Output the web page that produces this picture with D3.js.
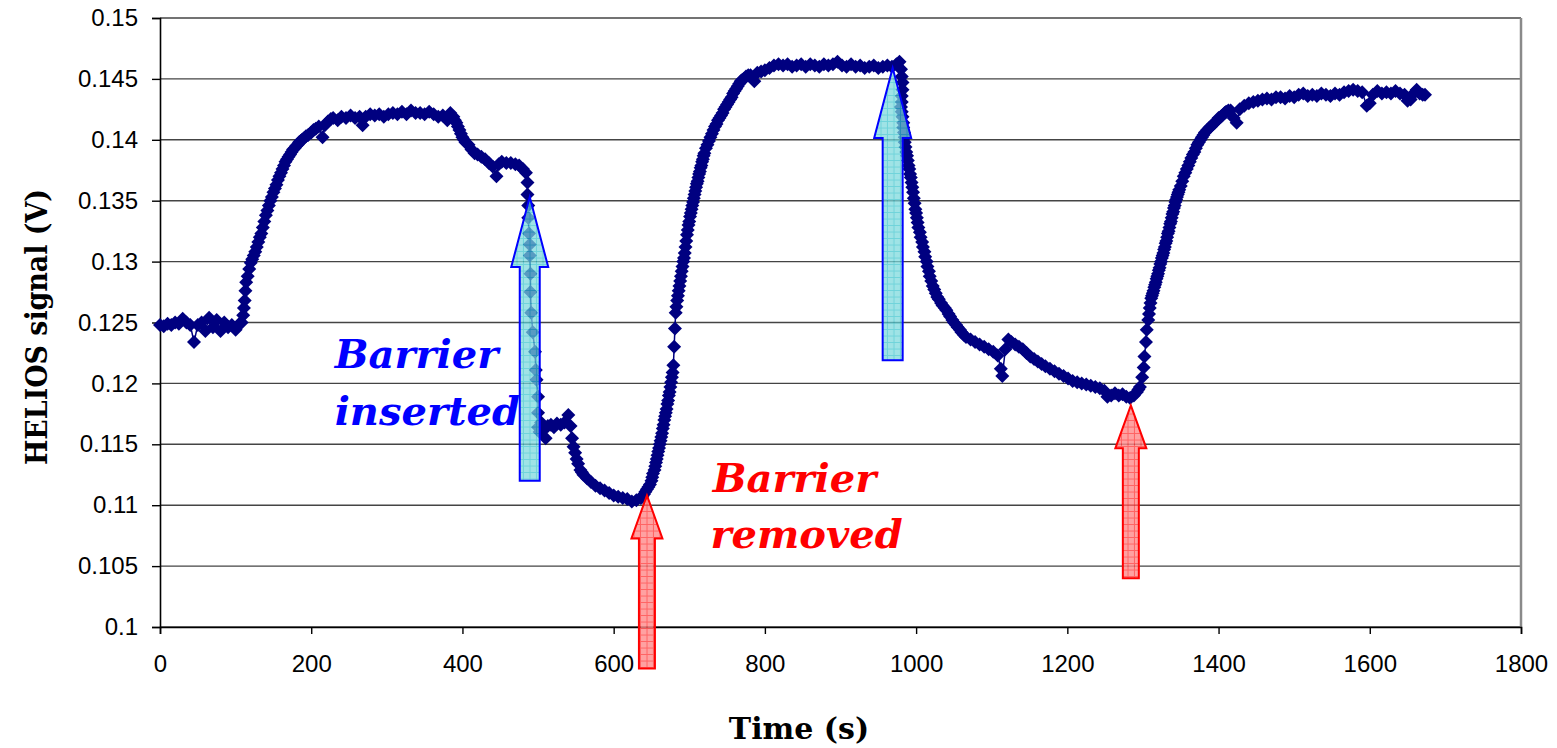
<!DOCTYPE html>
<html>
<head>
<meta charset="utf-8">
<script src="https://cdn.jsdelivr.net/npm/d3@7"></script>
<style>
  body { margin: 0; background: #fff; }
  svg { display: block; }
</style>
</head>
<body>
<div id="chart"></div>
<script>
// HELIOS signal (V) against time (s)
const helios = [
  [0,.1248],[5,.1247],[10,.1249],[15,.1248],[20,.1250],[25,.1249],[30,.1253],[35,.1250],[40,.1248],[45,.1234],
  [50,.1248],[55,.1250],[60,.1243],[65,.1254],[70,.1246],[75,.1252],[80,.1243],[85,.1250],[90,.1246],[95,.1248],
  [100,.1244],[105,.1249],[108,.1250],[110,.1256],[111,.1262],[112,.1268],[113,.1276],[114,.1283],[116,.1288],
  [118,.1294],[120,.1299],[122,.1302],[124,.1305],[126,.1308],[128,.1312],[130,.1316],[132,.1320],[134,.1323],
  [136,.1328],[138,.1333],[140,.1338],[142,.1342],[144,.1346],[146,.1350],[148,.1353],[150,.1357],[152,.1360],
  [154,.1363],[156,.1367],[158,.1370],[160,.1373],[162,.1376],[164,.1379],[166,.1382],[168,.1384],[170,.1386],
  [172,.1388],[174,.1390],[176,.1392],[178,.1393],[180,.1395],[182,.1396],[184,.1398],[186,.1399],[188,.1400],
  [190,.1401],[193,.1403],[196,.1404],[200,.1406],[203,.1408],[206,.1409],[210,.1411],[215,.1402],
  [218,.1412],[222,.1415],[226,.1417],[229,.1418],[235,.1416],[240,.1419],[246,.1418],[252,.1420],[258,.1418],
  [264,.1419],[268,.1412],[272,.1419],[278,.1421],[284,.1420],[290,.1421],[296,.1419],[302,.1421],[308,.1422],
  [314,.1421],[320,.1423],[326,.1421],[332,.1424],[338,.1422],[344,.1422],[350,.1421],[356,.1423],[362,.1421],
  [368,.1419],[374,.1420],[380,.1416],[384,.1422],[388,.1419],[390,.1416],[392,.1414],[394,.1411],[396,.1408],
  [398,.1405],[400,.1402],[402,.1400],[404,.1398],[408,.1396],[412,.1392],[416,.1389],[420,.1388],[425,.1386],
  [430,.1384],[435,.1381],[440,.1378],[445,.1370],[448,.1380],[452,.1382],[458,.1381],[464,.1381],[470,.1380],
  [475,.1379],[480,.1376],[484,.1373],[486,.1365],
  [486,.1355],[487,.1346],[487,.1336],[488,.1323],[489,.1314],[489,.1305],[490,.1290],[490,.1275],[491,.1258],
  [493,.1242],[496,.1226],[497,.1211],[498,.1203],[500,.1189],[500,.1176],[500,.1164],
  [502,.1160],[504,.1168],[507,.1162],[510,.1155],[513,.1165],[517,.1166],[521,.1164],[525,.1167],[530,.1166],
  [535,.1168],[540,.1174],[543,.1165],[545,.1155],[547,.1148],[549,.1143],[551,.1138],[553,.1134],[556,.1129],
  [558,.1127],[560,.1125],[565,.1122],[570,.1119],[576,.1116],[582,.1114],[588,.1112],[594,.1110],[600,.1108],
  [606,.1107],[612,.1106],[618,.1105],[624,.1103],[630,.1104],[636,.1106],[638,.1107],[640,.1109],[642,.1111],
  [644,.1113],[646,.1115],[648,.1117],[650,.1120],[651,.1123],[652,.1126],[654,.1129],[655,.1132],[656,.1135],
  [657,.1138],[658,.1141],[659,.1144],[660,.1147],[661,.1150],[662,.1153],[663,.1156],[664,.1159],[665,.1163],
  [666,.1166],[667,.1170],[668,.1173],[669,.1176],[670,.1179],[671,.1183],[672,.1186],[673,.1190],[674,.1193],
  [675,.1197],[676,.1201],[677,.1205],[678,.1209],[679,.1215],[680,.1230],[681,.1245],[682,.1258],[683,.1263],
  [684,.1268],[685,.1272],[686,.1276],[687,.1280],[688,.1284],[689,.1288],[690,.1292],[691,.1296],[692,.1300],
  [693,.1303],[694,.1307],[695,.1312],[696,.1317],[697,.1322],[698,.1326],[699,.1330],[700,.1333],[701,.1337],
  [702,.1340],[703,.1343],[704,.1346],[705,.1349],[706,.1352],[707,.1355],[708,.1358],[709,.1361],[710,.1364],
  [711,.1366],[712,.1369],[713,.1372],[714,.1374],[715,.1377],[716,.1379],[717,.1382],[718,.1384],[719,.1387],
  [720,.1389],[722,.1393],[724,.1396],[726,.1399],[728,.1402],[730,.1405],[732,.1408],[734,.1411],[736,.1413],
  [738,.1416],[740,.1418],[742,.1420],[744,.1422],[746,.1425],[748,.1427],[750,.1429],[752,.1431],[754,.1433],
  [756,.1435],[758,.1438],[760,.1440],[762,.1442],[764,.1444],[766,.1446],[768,.1448],[770,.1449],[772,.1450],
  [775,.1452],[778,.1453],[781,.1453],[786,.1448],[790,.1455],[795,.1456],[800,.1457],[806,.1459],[812,.1461],
  [818,.1462],[824,.1461],[830,.1462],[836,.1460],[842,.1461],[848,.1462],[854,.1460],[860,.1462],[866,.1461],
  [872,.1460],[878,.1462],[884,.1461],[890,.1462],[896,.1464],[902,.1461],[908,.1460],[914,.1462],[920,.1460],
  [926,.1461],[932,.1459],[938,.1460],[944,.1461],[950,.1459],[956,.1460],[962,.1461],[968,.1460],[974,.1462],
  [978,.1464],[980,.1458],[981,.1452],[982,.1447],[982,.1441],[981,.1436],[981,.1431],[980,.1427],[981,.1423],
  [982,.1419],[983,.1414],[983,.1410],[984,.1406],[985,.1402],[985,.1398],[986,.1394],[987,.1390],[988,.1387],
  [989,.1383],[990,.1379],[991,.1376],[992,.1372],[993,.1369],[994,.1365],[995,.1361],[996,.1357],[997,.1352],
  [998,.1348],[999,.1343],[1000,.1340],[1001,.1336],[1002,.1332],[1003,.1328],[1005,.1324],[1006,.1320],
  [1008,.1316],[1009,.1312],[1011,.1308],[1012,.1304],[1014,.1300],[1015,.1296],[1017,.1292],[1018,.1288],
  [1020,.1284],[1022,.1280],[1024,.1277],[1026,.1274],[1028,.1271],[1030,.1269],[1033,.1266],[1035,.1264],
  [1038,.1262],[1040,.1260],[1043,.1257],[1045,.1255],[1048,.1252],[1050,.1250],[1053,.1248],[1055,.1246],
  [1058,.1244],[1060,.1242],[1063,.1240],[1066,.1238],[1072,.1236],[1078,.1234],[1084,.1232],
  [1090,.1230],[1096,.1228],[1102,.1226],[1108,.1223],[1112,.1212],[1114,.1206],[1118,.1228],[1122,.1236],
  [1126,.1234],[1131,.1232],[1136,.1230],[1141,.1228],[1146,.1225],[1151,.1222],[1156,.1220],[1161,.1218],
  [1166,.1216],[1171,.1214],[1177,.1212],[1183,.1210],[1189,.1208],[1195,.1206],[1201,.1204],[1207,.1202],
  [1213,.1201],[1219,.1200],[1225,.1199],[1231,.1198],[1237,.1197],[1243,.1196],[1249,.1194],[1253,.1189],
  [1258,.1190],[1263,.1192],[1268,.1190],[1273,.1191],[1278,.1189],[1283,.1188],[1288,.1190],[1292,.1193],
  [1294,.1195],[1296,.1197],[1299,.1205],[1301,.1213],[1302,.1222],[1304,.1234],[1305,.1244],[1307,.1252],
  [1308,.1257],[1309,.1262],[1310,.1266],[1311,.1270],[1312,.1272],[1313,.1274],[1314,.1276],[1315,.1279],
  [1316,.1281],[1317,.1283],[1318,.1286],[1319,.1288],[1320,.1290],[1321,.1293],[1322,.1295],[1323,.1298],
  [1324,.1300],[1325,.1303],[1326,.1305],[1327,.1307],[1328,.1310],[1329,.1312],[1330,.1315],[1331,.1317],
  [1332,.1320],[1333,.1323],[1334,.1325],[1335,.1328],[1336,.1331],[1337,.1333],[1338,.1336],[1339,.1339],
  [1340,.1341],[1341,.1344],[1342,.1346],[1343,.1349],[1344,.1351],[1345,.1353],[1346,.1355],[1347,.1357],
  [1348,.1359],[1350,.1362],[1352,.1366],[1354,.1370],[1356,.1373],[1358,.1376],[1360,.1379],[1362,.1382],
  [1364,.1385],[1366,.1388],[1368,.1390],[1370,.1393],[1372,.1396],[1374,.1398],[1376,.1400],[1378,.1402],
  [1380,.1404],[1382,.1406],[1385,.1408],[1388,.1410],[1390,.1411],[1393,.1413],[1395,.1414],[1398,.1416],
  [1400,.1418],[1403,.1419],[1405,.1420],[1408,.1422],[1410,.1423],[1413,.1424],[1416,.1424],[1420,.1418],
  [1424,.1414],[1428,.1425],[1434,.1428],[1440,.1430],[1446,.1431],[1452,.1432],[1458,.1433],[1464,.1434],
  [1470,.1433],[1476,.1435],[1482,.1435],[1488,.1434],[1494,.1436],[1500,.1435],[1506,.1437],[1512,.1438],
  [1518,.1436],[1524,.1437],[1530,.1436],[1536,.1438],[1542,.1437],[1548,.1436],[1554,.1438],[1560,.1437],
  [1566,.1439],[1572,.1440],[1578,.1441],[1584,.1440],[1590,.1439],[1596,.1428],[1600,.1430],[1604,.1437],
  [1610,.1440],[1616,.1438],[1622,.1439],[1628,.1438],[1634,.1440],[1640,.1438],[1646,.1437],[1650,.1432],
  [1654,.1433],[1658,.1438],[1662,.1441],[1666,.1438],[1670,.1437],[1673,.1437]
];

const xTicks = [0, 200, 400, 600, 800, 1000, 1200, 1400, 1600, 1800];
const yTicks = [0.1, 0.105, 0.11, 0.115, 0.12, 0.125, 0.13, 0.135, 0.14, 0.145, 0.15];

// arrows: time of the tip, signal at the tip, signal at the tail
const arrowTimes = [489, 969, 644, 1284];
const arrowTips = [0.1353, 0.1459, 0.1108, 0.1182];
const arrowEnds = [0.1120, 0.1219, 0.0966, 0.1040];
const arrowKinds = ['inserted', 'inserted', 'removed', 'removed'];

const noteLines = ['Barrier', 'inserted', 'Barrier', 'removed'];
const noteTimes = [231, 231, 731, 728];
const noteValues = [0.1213, 0.1166, 0.1111, 0.1065];
const noteKinds = ['inserted', 'inserted', 'removed', 'removed'];

const W = 1557, H = 748;
const margin = {top: 18, right: 36, bottom: 121, left: 160};
const width = W - margin.left - margin.right;
const height = H - margin.top - margin.bottom;

const svg = d3.select('#chart')
    .append('svg')
    .attr('width', W)
    .attr('height', H);

const defs = svg.append('defs');
function gridPattern(id, bg, lineColor) {
    const p = defs.append('pattern')
        .attr('id', id)
        .attr('patternUnits', 'userSpaceOnUse')
        .attr('width', 6.5)
        .attr('height', 6.5);
    p.append('rect').attr('width', 6.5).attr('height', 6.5).attr('fill', bg);
    p.append('path')
        .attr('d', 'M0,6 H6.5 M6,0 V6.5')
        .attr('stroke', lineColor)
        .attr('stroke-width', 1)
        .attr('fill', 'none');
}
gridPattern('gridBlue', '#7ad8dc', '#38c2cc');
gridPattern('gridRed', '#ff8a8a', '#ff3c3c');

const g = svg.append('g')
    .attr('transform', `translate(${margin.left},${margin.top})`);

const x = d3.scaleLinear().domain([0, 1800]).range([0, width]);
const y = d3.scaleLinear().domain([0.1, 0.15]).range([height, 0]);

// horizontal gridlines
g.append('g')
    .selectAll('line')
    .data(yTicks)
    .enter()
    .append('line')
    .attr('x1', 0)
    .attr('x2', width)
    .attr('y1', d => y(d))
    .attr('y2', d => y(d))
    .attr('stroke', '#444')
    .attr('stroke-width', 1.4);

// right border of the plot area
g.append('line')
    .attr('x1', width).attr('x2', width)
    .attr('y1', 0).attr('y2', height)
    .attr('stroke', '#8a8a8a')
    .attr('stroke-width', 2.5);

const yAxis = g.append('g')
    .call(d3.axisLeft(y).tickValues(yTicks).tickSize(8).tickPadding(14)
        .tickFormat(d => String(+d.toFixed(3))));

const xAxis = g.append('g')
    .attr('transform', `translate(0,${height})`)
    .call(d3.axisBottom(x).tickValues(xTicks).tickSize(7).tickPadding(21)
        .tickFormat(d3.format('d')));

[yAxis, xAxis].forEach(a => {
    a.select('.domain').attr('stroke', '#000').attr('stroke-width', 1.6);
    a.selectAll('.tick line').attr('stroke', '#000').attr('stroke-width', 1.4);
    a.selectAll('.tick text')
        .attr('fill', '#000')
        .style('font-family', '"Liberation Sans", Arial, sans-serif')
        .style('font-size', '24px');
});

// axis titles
svg.append('text')
    .attr('transform', `translate(47,327) rotate(-90)`)
    .attr('text-anchor', 'middle')
    .style('font-family', '"DejaVu Serif", serif')
    .style('font-weight', 'bold')
    .style('font-size', '30px')
    .attr('textLength', 276)
    .attr('lengthAdjust', 'spacingAndGlyphs')
    .text('HELIOS signal (V)');

svg.append('text')
    .attr('x', 799)
    .attr('y', 739)
    .attr('text-anchor', 'middle')
    .style('font-family', '"DejaVu Serif", serif')
    .style('font-weight', 'bold')
    .style('font-size', '30px')
    .text('Time (s)');

// data line + diamond markers
const line = d3.line()
    .x(d => x(d[0]))
    .y(d => y(d[1]));

g.append('path')
    .datum(helios)
    .attr('fill', 'none')
    .attr('stroke', '#000080')
    .attr('stroke-width', 1.5)
    .attr('d', line);

const r = 7;
g.append('g')
    .selectAll('path')
    .data(helios)
    .enter()
    .append('path')
    .attr('transform', d => `translate(${x(d[0])},${y(d[1])})`)
    .attr('d', `M0,${-r}L${r},0L0,${r}L${-r},0Z`)
    .attr('fill', '#000080');

// block arrows
const arrows = arrowTimes.map((t, i) => ({
    t: t, tip: arrowTips[i], end: arrowEnds[i], kind: arrowKinds[i]
}));

function arrowPath(d) {
    const big = d.kind === 'inserted';
    const hw = big ? 18.5 : 15.5;   // head half width
    const sw = big ? 10 : 8;        // shaft half width
    const hl = big ? 70 : 43;       // head length
    const cx = x(d.t), ty = y(d.tip), by = y(d.end);
    return `M${cx},${ty}L${cx + hw},${ty + hl}L${cx + sw},${ty + hl}L${cx + sw},${by}` +
        `L${cx - sw},${by}L${cx - sw},${ty + hl}L${cx - hw},${ty + hl}Z`;
}

g.append('g')
    .selectAll('path')
    .data(arrows)
    .enter()
    .append('path')
    .attr('d', arrowPath)
    .attr('fill', d => d.kind === 'inserted' ? 'url(#gridBlue)' : 'url(#gridRed)')
    .attr('fill-opacity', d => d.kind === 'inserted' ? 0.72 : 0.8)
    .attr('stroke', d => d.kind === 'inserted' ? '#0000ff' : '#ff0000')
    .attr('stroke-width', 2)
    .attr('stroke-linejoin', 'miter');

// annotations
g.append('g')
    .selectAll('text')
    .data(noteLines)
    .enter()
    .append('text')
    .attr('x', (d, i) => x(noteTimes[i]))
    .attr('y', (d, i) => y(noteValues[i]))
    .attr('fill', (d, i) => noteKinds[i] === 'inserted' ? '#0000ff' : '#ff0000')
    .style('font-family', '"DejaVu Serif", serif')
    .style('font-weight', 'bold')
    .style('font-style', 'italic')
    .style('font-size', '40px')
    .text(d => d);
</script>
</body>
</html>
